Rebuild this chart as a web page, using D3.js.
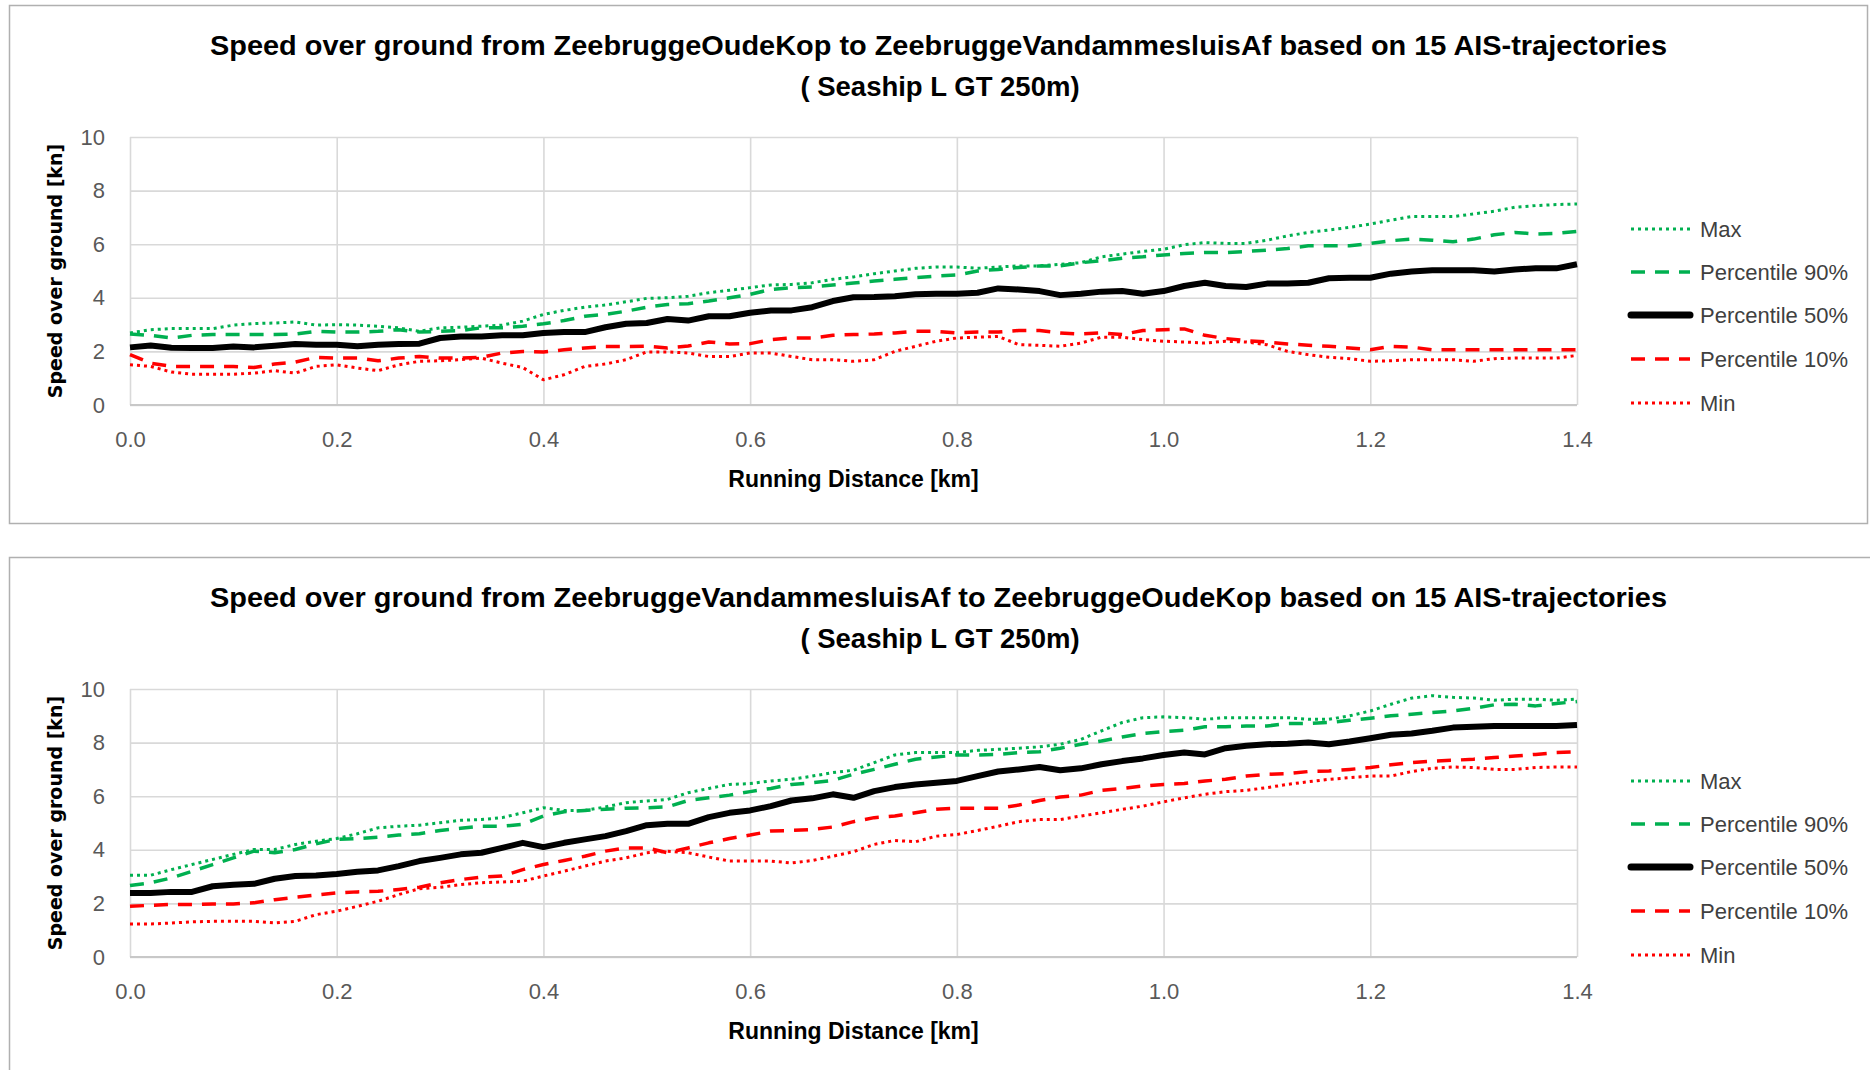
<!DOCTYPE html>
<html>
<head>
    <meta charset="utf-8">
    <title>Speed over ground</title>
    <script src="https://d3js.org/d3.v7.min.js"></script>
    <style>
        body {
            margin: 0;
            background: #fff;
            overflow: hidden;
        }
        .tick text {
            font-family: "Liberation Sans", Arial, sans-serif;
            font-size: 22px;
            fill: #595959;
        }
        .grid .tick line {
            stroke: #d9d9d9;
            stroke-width: 1.6px;
        }
        .title {
            font-family: "Liberation Sans", Arial, sans-serif;
            font-weight: bold;
            font-size: 27.5px;
            fill: #000;
        }
        .axis-title {
            font-family: "Liberation Sans", Arial, sans-serif;
            font-weight: bold;
            font-size: 23px;
            fill: #000;
        }
        .y-title {
            font-family: "DejaVu Sans", Verdana, sans-serif;
            font-weight: bold;
            font-size: 19px;
            fill: #000;
        }
        .legend text {
            font-family: "Liberation Sans", Arial, sans-serif;
            font-size: 22px;
            fill: #404040;
        }
    </style>
</head>
<body>
<script>
// running distance [km]
const distanceKm = [
    0.00, 0.02, 0.04, 0.06, 0.08, 0.10, 0.12, 0.14, 0.16, 0.18,
    0.20, 0.22, 0.24, 0.26, 0.28, 0.30, 0.32, 0.34, 0.36, 0.38,
    0.40, 0.42, 0.44, 0.46, 0.48, 0.50, 0.52, 0.54, 0.56, 0.58,
    0.60, 0.62, 0.64, 0.66, 0.68, 0.70, 0.72, 0.74, 0.76, 0.78,
    0.80, 0.82, 0.84, 0.86, 0.88, 0.90, 0.92, 0.94, 0.96, 0.98,
    1.00, 1.02, 1.04, 1.06, 1.08, 1.10, 1.12, 1.14, 1.16, 1.18,
    1.20, 1.22, 1.24, 1.26, 1.28, 1.30, 1.32, 1.34, 1.36, 1.38,
    1.40
];
const xTicks = [0, 0.2, 0.4, 0.6, 0.8, 1.0, 1.2, 1.4];
const yTicks = [0, 2, 4, 6, 8, 10];
const seriesNames = ["Max", "Percentile 90%", "Percentile 50%", "Percentile 10%", "Min"];

// OudeKop -> VandammesluisAf
const outMax = [
    2.69, 2.81, 2.85, 2.85, 2.85, 2.98, 3.04, 3.06, 3.10, 2.98,
    3.00, 2.98, 2.94, 2.88, 2.75, 2.88, 2.90, 2.94, 2.98, 3.13,
    3.38, 3.53, 3.65, 3.73, 3.85, 3.98, 4.00, 4.06, 4.19, 4.28,
    4.38, 4.48, 4.50, 4.56, 4.69, 4.78, 4.90, 5.00, 5.10, 5.15,
    5.15, 5.10, 5.15, 5.19, 5.19, 5.25, 5.31, 5.53, 5.63, 5.73,
    5.81, 5.98, 6.06, 6.03, 6.03, 6.15, 6.31, 6.44, 6.53, 6.63,
    6.75, 6.90, 7.03, 7.03, 7.03, 7.13, 7.23, 7.38, 7.44, 7.48,
    7.50
];
const outP90 = [
    2.65, 2.60, 2.50, 2.60, 2.63, 2.63, 2.63, 2.63, 2.65, 2.75,
    2.72, 2.72, 2.75, 2.81, 2.72, 2.75, 2.78, 2.88, 2.88, 2.94,
    3.03, 3.15, 3.31, 3.38, 3.50, 3.65, 3.75, 3.78, 3.88, 4.00,
    4.13, 4.31, 4.38, 4.40, 4.48, 4.55, 4.63, 4.69, 4.75, 4.81,
    4.85, 5.00, 5.06, 5.13, 5.19, 5.19, 5.31, 5.38, 5.48, 5.53,
    5.60, 5.65, 5.69, 5.69, 5.73, 5.78, 5.84, 5.94, 5.94, 5.94,
    6.03, 6.13, 6.19, 6.15, 6.09, 6.19, 6.35, 6.44, 6.38, 6.40,
    6.48
];
const outP50 = [
    2.15, 2.22, 2.14, 2.13, 2.13, 2.18, 2.15, 2.21, 2.28, 2.25,
    2.25, 2.19, 2.25, 2.28, 2.29, 2.50, 2.56, 2.56, 2.60, 2.60,
    2.69, 2.72, 2.72, 2.90, 3.03, 3.06, 3.21, 3.15, 3.31, 3.31,
    3.44, 3.53, 3.53, 3.65, 3.88, 4.02, 4.03, 4.06, 4.13, 4.15,
    4.15, 4.19, 4.35, 4.31, 4.25, 4.10, 4.15, 4.23, 4.25, 4.15,
    4.25, 4.44, 4.56, 4.44, 4.40, 4.53, 4.53, 4.56, 4.73, 4.75,
    4.75, 4.90, 4.98, 5.03, 5.03, 5.03, 4.98, 5.06, 5.10, 5.10,
    5.25
];
const outP10 = [
    1.88, 1.56, 1.44, 1.44, 1.44, 1.44, 1.40, 1.53, 1.60, 1.78,
    1.75, 1.75, 1.65, 1.75, 1.81, 1.75, 1.75, 1.78, 1.94, 2.00,
    1.98, 2.06, 2.13, 2.18, 2.18, 2.19, 2.13, 2.20, 2.35, 2.28,
    2.29, 2.44, 2.50, 2.50, 2.60, 2.63, 2.65, 2.69, 2.75, 2.75,
    2.69, 2.72, 2.72, 2.78, 2.78, 2.69, 2.65, 2.69, 2.63, 2.78,
    2.81, 2.84, 2.60, 2.48, 2.40, 2.35, 2.28, 2.23, 2.19, 2.13,
    2.06, 2.19, 2.16, 2.06, 2.06, 2.06, 2.06, 2.06, 2.06, 2.06,
    2.06
];
const outMin = [
    1.50, 1.44, 1.23, 1.15, 1.15, 1.15, 1.19, 1.28, 1.19, 1.44,
    1.50, 1.38, 1.28, 1.50, 1.63, 1.65, 1.69, 1.75, 1.56, 1.40,
    0.94, 1.13, 1.44, 1.53, 1.69, 1.98, 1.98, 1.94, 1.81, 1.81,
    1.94, 1.94, 1.81, 1.69, 1.69, 1.63, 1.69, 2.00, 2.19, 2.38,
    2.50, 2.53, 2.56, 2.25, 2.23, 2.19, 2.31, 2.53, 2.53, 2.44,
    2.38, 2.35, 2.31, 2.38, 2.35, 2.25, 2.00, 1.88, 1.78, 1.73,
    1.63, 1.65, 1.69, 1.69, 1.69, 1.63, 1.73, 1.75, 1.75, 1.75,
    1.85
];

// VandammesluisAf -> OudeKop
const backMax = [
    3.05, 3.05, 3.26, 3.45, 3.64, 3.83, 4.01, 4.01, 4.20, 4.32,
    4.42, 4.60, 4.82, 4.88, 4.92, 5.01, 5.10, 5.13, 5.20, 5.38,
    5.57, 5.47, 5.47, 5.60, 5.76, 5.82, 5.88, 6.13, 6.29, 6.44,
    6.47, 6.57, 6.63, 6.75, 6.88, 6.97, 7.25, 7.54, 7.63, 7.63,
    7.63, 7.71, 7.75, 7.79, 7.84, 7.94, 8.12, 8.44, 8.75, 8.93,
    8.96, 8.93, 8.87, 8.93, 8.93, 8.93, 8.93, 8.87, 8.87, 9.00,
    9.18, 9.43, 9.66, 9.75, 9.69, 9.66, 9.58, 9.62, 9.62, 9.58,
    9.62
];
const backP90 = [
    2.67, 2.77, 2.95, 3.20, 3.45, 3.70, 3.95, 3.89, 4.01, 4.22,
    4.39, 4.42, 4.47, 4.55, 4.60, 4.72, 4.80, 4.88, 4.88, 4.95,
    5.26, 5.42, 5.47, 5.51, 5.55, 5.57, 5.60, 5.84, 5.94, 6.04,
    6.17, 6.29, 6.44, 6.50, 6.59, 6.82, 7.00, 7.19, 7.38, 7.46,
    7.54, 7.54, 7.56, 7.63, 7.66, 7.79, 7.94, 8.06, 8.21, 8.34,
    8.41, 8.46, 8.59, 8.59, 8.62, 8.62, 8.71, 8.71, 8.75, 8.83,
    8.91, 9.00, 9.06, 9.12, 9.18, 9.28, 9.41, 9.43, 9.37, 9.46,
    9.53
];
const backP50 = [
    2.39, 2.39, 2.43, 2.43, 2.64, 2.70, 2.73, 2.92, 3.02, 3.04,
    3.10, 3.18, 3.23, 3.39, 3.58, 3.70, 3.83, 3.89, 4.07, 4.26,
    4.10, 4.26, 4.39, 4.51, 4.70, 4.92, 4.97, 4.97, 5.22, 5.38,
    5.47, 5.63, 5.84, 5.92, 6.07, 5.94, 6.19, 6.34, 6.44, 6.50,
    6.57, 6.75, 6.92, 7.00, 7.09, 6.97, 7.04, 7.19, 7.31, 7.41,
    7.54, 7.63, 7.56, 7.79, 7.88, 7.94, 7.96, 8.00, 7.94, 8.04,
    8.16, 8.29, 8.34, 8.44, 8.56, 8.59, 8.62, 8.62, 8.62, 8.62,
    8.66
];
const backP10 = [
    1.89, 1.93, 1.96, 1.96, 1.98, 1.98, 2.02, 2.14, 2.23, 2.31,
    2.39, 2.43, 2.45, 2.52, 2.60, 2.77, 2.89, 2.98, 3.02, 3.26,
    3.45, 3.60, 3.76, 3.95, 4.07, 4.07, 3.89, 4.07, 4.26, 4.42,
    4.55, 4.70, 4.72, 4.76, 4.85, 5.05, 5.20, 5.26, 5.38, 5.51,
    5.55, 5.55, 5.55, 5.67, 5.84, 5.97, 6.04, 6.22, 6.29, 6.38,
    6.44, 6.47, 6.57, 6.63, 6.75, 6.82, 6.84, 6.92, 6.94, 7.00,
    7.07, 7.17, 7.25, 7.31, 7.34, 7.38, 7.44, 7.50, 7.56, 7.63,
    7.66
];
const backMin = [
    1.23, 1.23, 1.27, 1.31, 1.33, 1.33, 1.33, 1.27, 1.33, 1.58,
    1.71, 1.89, 2.08, 2.33, 2.55, 2.60, 2.70, 2.77, 2.80, 2.83,
    3.02, 3.20, 3.39, 3.58, 3.70, 3.89, 3.95, 3.89, 3.73, 3.58,
    3.58, 3.58, 3.51, 3.60, 3.76, 3.93, 4.20, 4.35, 4.30, 4.51,
    4.57, 4.72, 4.88, 5.05, 5.13, 5.13, 5.26, 5.38, 5.51, 5.63,
    5.79, 5.94, 6.07, 6.17, 6.22, 6.32, 6.44, 6.54, 6.63, 6.69,
    6.75, 6.75, 6.92, 7.04, 7.09, 7.07, 7.00, 7.00, 7.07, 7.09,
    7.09
];

const titlesOut = ["Speed over ground from ZeebruggeOudeKop to ZeebruggeVandammesluisAf based on 15 AIS-trajectories",
    "( Seaship L GT 250m)"];
const titlesBack = ["Speed over ground from ZeebruggeVandammesluisAf to ZeebruggeOudeKop based on 15 AIS-trajectories",
    "( Seaship L GT 250m)"];
const xTitle = "Running Distance [km]";
const yTitle = "Speed over ground [kn]";

// line look per series
const seriesStyle = {
    "Max":            { color: "#00b050", width: 3,   dash: "3 4" },
    "Percentile 90%": { color: "#00b050", width: 3.5, dash: "14 10" },
    "Percentile 50%": { color: "#000000", width: 6,   dash: null },
    "Percentile 10%": { color: "#ff0000", width: 3.5, dash: "14 10" },
    "Min":            { color: "#ff0000", width: 3,   dash: "3 4" }
};

const svg = d3.select("body").append("svg")
    .attr("width", 1870)
    .attr("height", 1070);

const plot = { left: 130, right: 1577, top: 137, bottom: 405 };

function drawChart(offsetY, panelH, titles, seriesData) {
    let g = svg.append("g").attr("transform", `translate(0,${offsetY})`);

    // chart frame
    g.append("rect")
        .attr("x", 9.5).attr("y", 5.5)
        .attr("width", panelH ? 1858 : 1900)
        .attr("height", panelH || 700)
        .attr("fill", "#fff")
        .attr("stroke", "#b0b0b0")
        .attr("stroke-width", 1.5);

    let x = d3.scaleLinear().domain([0, 1.4]).range([plot.left, plot.right]);
    let y = d3.scaleLinear().domain([0, 10]).range([plot.bottom, plot.top]);

    // grid + tick labels
    g.append("g")
        .attr("class", "grid")
        .attr("transform", `translate(0,${plot.bottom})`)
        .call(d3.axisBottom(x).tickValues(xTicks).tickFormat(d3.format(".1f"))
            .tickSize(-(plot.bottom - plot.top)).tickPadding(26))
        .call(a => a.select(".domain").remove());

    g.append("g")
        .attr("class", "grid")
        .attr("transform", `translate(${plot.left},0)`)
        .call(d3.axisLeft(y).tickValues(yTicks).tickFormat(d3.format("d"))
            .tickSize(-(plot.right - plot.left)).tickPadding(25))
        .call(a => a.select(".domain").remove());

    g.append("line")
        .attr("x1", plot.left).attr("x2", plot.right)
        .attr("y1", plot.bottom).attr("y2", plot.bottom)
        .attr("stroke", "#c8c8c8").attr("stroke-width", 2);

    // series lines
    let line = d3.line()
        .x((d, i) => x(distanceKm[i]))
        .y(d => y(d));

    seriesNames.forEach((name, k) => {
        let s = seriesStyle[name];
        g.append("path")
            .datum(seriesData[k])
            .attr("d", line)
            .attr("fill", "none")
            .attr("stroke", s.color)
            .attr("stroke-width", s.width)
            .attr("stroke-linejoin", "round")
            .attr("stroke-dasharray", s.dash);
    });

    // titles
    g.append("text").attr("class", "title")
        .attr("x", 938.5).attr("y", 55)
        .attr("text-anchor", "middle")
        .attr("textLength", 1457).attr("lengthAdjust", "spacingAndGlyphs")
        .text(titles[0]);
    g.append("text").attr("class", "title")
        .attr("x", 940).attr("y", 96)
        .attr("text-anchor", "middle")
        .text(titles[1]);

    g.append("text").attr("class", "axis-title")
        .attr("x", (plot.left + plot.right) / 2).attr("y", 487)
        .attr("text-anchor", "middle")
        .text(xTitle);

    g.append("text").attr("class", "y-title")
        .attr("transform", `translate(62,${(plot.top + plot.bottom) / 2}) rotate(-90)`)
        .attr("text-anchor", "middle")
        .text(yTitle);

    // legend
    let rowOffsets = [92, 135, 178, 222, 266];
    let legend = g.append("g").attr("class", "legend");
    seriesNames.forEach((name, k) => {
        let s = seriesStyle[name];
        let ly = plot.top + rowOffsets[k];
        legend.append("line")
            .attr("x1", 1631).attr("x2", 1690)
            .attr("y1", ly).attr("y2", ly)
            .attr("stroke", s.color)
            .attr("stroke-width", name === "Percentile 50%" ? 7 : s.width)
            .attr("stroke-linecap", name === "Percentile 50%" ? "round" : "butt")
            .attr("stroke-dasharray", s.dash);
        legend.append("text")
            .attr("x", 1700).attr("y", ly + 8)
            .text(name);
    });
}

drawChart(0, 518, titlesOut, [outMax, outP90, outP50, outP10, outMin]);
drawChart(552, null, titlesBack, [backMax, backP90, backP50, backP10, backMin]);
</script>
</body>
</html>
